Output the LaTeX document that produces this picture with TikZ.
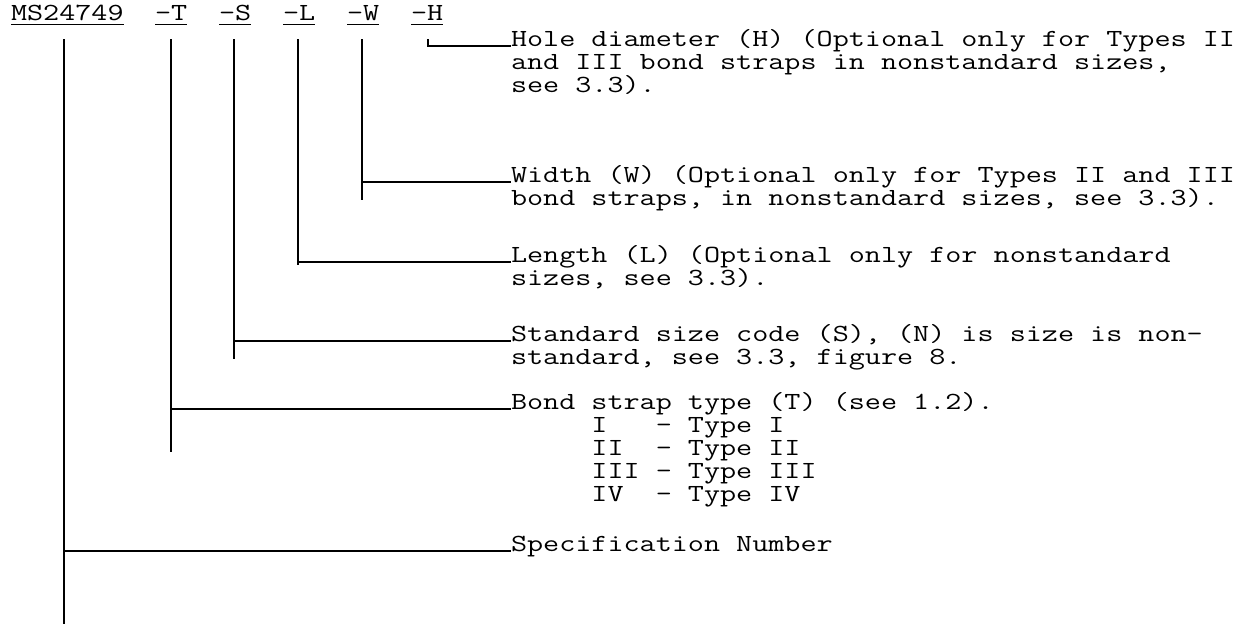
\documentclass[tikz,border=0pt]{standalone}
\usepackage{fontspec}
\newfontfamily\mono{Latin Modern Mono}[FakeStretch=1.27]
\newcommand\lbl[1]{\vtop{\baselineskip=23pt\lineskiplimit=-100pt\lineskip=0pt #1}}
\begin{document}
\begin{tikzpicture}[x=1pt,y=-1pt,
  txt/.style={anchor=base west,inner sep=0pt,outer sep=0pt,font=\mono\fontsize{24.6pt}{23pt}\selectfont},
  conn/.style={line width=1.7pt,black},
  ul/.style={line width=1.3pt,black}]
\useasboundingbox[fill=white] (0,0) rectangle (1243,624);
% header
\node[txt] (ms) at (11,20) {MS24749};
\node[txt] (hT) at (155,20) {-T};
\node[txt] (hS) at (219,20) {-S};
\node[txt] (hL) at (283,20) {-L};
\node[txt] (hW) at (347,20) {-W};
\node[txt] (hH) at (411,20) {-H};
\foreach \n in {ms,hT,hS,hL,hW,hH}
  \draw[ul] ([yshift=-4.5pt]\n.base west) -- ([yshift=-4.5pt]\n.base east);
% labels
\node[txt] (hole) at (511,46) {\lbl{\hbox{Hole diameter (H) (Optional only for Types II}\hbox{and III bond straps in nonstandard sizes,}\hbox{see 3.3).}}};
\node[txt] (width) at (511,182) {\lbl{\hbox{Width (W) (Optional only for Types II and III}\hbox{bond straps, in nonstandard sizes, see 3.3).}}};
\node[txt] (length) at (511,262) {\lbl{\hbox{Length (L) (Optional only for nonstandard}\hbox{sizes, see 3.3).}}};
\node[txt] (std) at (511,341) {\lbl{\hbox{Standard size code (S), (N) is size is non-}\hbox{standard, see 3.3, figure 8.}}};
\node[txt] (bond) at (511,409) {\lbl{\hbox{Bond strap type (T) (see 1.2).}\hbox{\ \ \ \ \ I\ \ \ - Type I}\hbox{\ \ \ \ \ II\ \ - Type II}\hbox{\ \ \ \ \ III - Type III}\hbox{\ \ \ \ \ IV\ \ - Type IV}}};
\node[txt] (spec) at (511,551) {Specification Number};
% connector coordinates
\coordinate (msA) at (64,39);  \coordinate (msB) at (64,624);
\coordinate (tA) at (171,39);  \coordinate (tB) at (171,452);
\coordinate (sA) at (234,39);  \coordinate (sB) at (234,359);
\coordinate (lA) at (298,39);  \coordinate (lB) at (298,265);
\coordinate (wA) at (362,39);  \coordinate (wB) at (362,200);
\coordinate (hA) at (428,39);
% connectors
\draw[conn] (msA) -- (msB);
\draw[conn] (msA |- spec.base west) -- (spec.base west);
\draw[conn] (tA) -- (tB);
\draw[conn] (tA |- bond.base west) -- (bond.base west);
\draw[conn] (sA) -- (sB);
\draw[conn] (sA |- std.base west) -- (std.base west);
\draw[conn] (lA) -- (lB);
\draw[conn] (lA |- length.base west) -- (length.base west);
\draw[conn] (wA) -- (wB);
\draw[conn] (wA |- width.base west) -- (width.base west);
\draw[conn] (hA) |- (hole.base west);
\end{tikzpicture}
\end{document}
